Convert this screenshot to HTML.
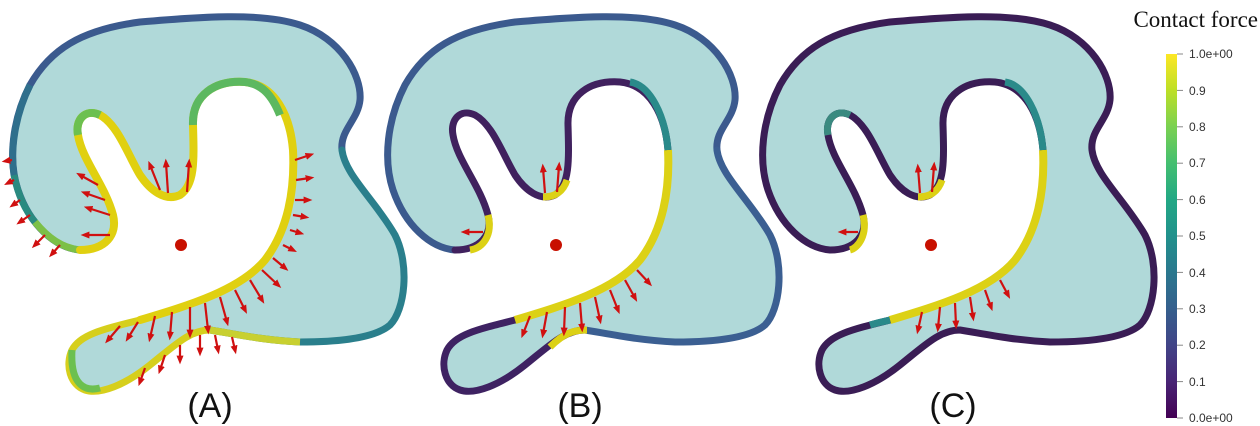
<!DOCTYPE html>
<html><head><meta charset="utf-8"><style>
body{margin:0;background:#fff;width:1260px;height:426px;overflow:hidden}
svg{display:block}
</style></head><body>
<svg width="1260" height="426" viewBox="0 0 1260 426" xmlns="http://www.w3.org/2000/svg">
<defs>
<linearGradient id="cb" x1="0" y1="1" x2="0" y2="0">
<stop offset="0" stop-color="#440154"/><stop offset="0.1" stop-color="#482475"/><stop offset="0.2" stop-color="#414487"/><stop offset="0.3" stop-color="#355f8d"/><stop offset="0.4" stop-color="#2a788e"/><stop offset="0.5" stop-color="#21918c"/><stop offset="0.6" stop-color="#22a884"/><stop offset="0.7" stop-color="#44bf70"/><stop offset="0.8" stop-color="#7ad151"/><stop offset="0.9" stop-color="#bddf26"/><stop offset="1" stop-color="#fde725"/>
</linearGradient>
<marker id="ah" viewBox="0 0 10 10" refX="5" refY="5" markerWidth="4" markerHeight="4" orient="auto"><path d="M0,1 L10,5 L0,9 z" fill="#d01010"/></marker>
<path id="full" d="M80,250 C55,248 30,225 18,190 C8,160 12,120 30,85 C50,50 80,30 140,22 C200,17 260,12 300,25 C340,38 362,75 360,100 C358,120 340,130 342,150 C345,175 375,200 395,235 C410,265 405,310 390,325 C375,338 340,342 300,342 C260,340 230,333 210,330 C190,330 175,345 150,365 C125,385 100,395 85,390 C70,385 65,365 72,350 C80,335 100,330 140,320 C190,305 240,290 265,260 C288,230 295,190 293,150 C290,115 275,85 245,82 C215,80 192,95 193,125 C194,160 195,185 180,195 C165,202 150,190 140,175 C128,155 118,125 100,115 C85,108 75,120 78,135 C82,160 105,185 113,215 C118,235 105,250 80,250 Z"/>
<path id="s1" d="M80,250 C55,248 30,225 18,190 C8,160 12,120 30,85 C50,50 80,30 140,22 C200,17 260,12 300,25 C340,38 362,75 360,100 C358,120 340,130 342,150"/>
<path id="s2" d="M342,150 C345,175 375,200 395,235 C410,265 405,310 390,325 C375,338 340,342 300,342 C260,340 230,333 210,330"/>
<path id="s3" d="M210,330 C190,330 175,345 150,365 C125,385 100,395 85,390 C70,385 65,365 72,350 C80,335 100,330 140,320"/>
<path id="s4" d="M140,320 C190,305 240,290 265,260 C288,230 295,190 293,150 C290,115 275,85 245,82 C215,80 192,95 193,125 C194,160 195,185 180,195 C165,202 150,190 140,175 C128,155 118,125 100,115 C85,108 75,120 78,135 C82,160 105,185 113,215 C118,235 105,250 80,250"/>
</defs>

<!-- Panel A -->
<g>
<use href="#full" fill="#b0d9d9" fill-rule="evenodd"/>
<use href="#s1" fill="none" stroke="#3b5a8e" stroke-width="7" stroke-linecap="round"/>
<path d="M30,85 C15,115 10,150 14,175" fill="none" stroke="#2f6f8c" stroke-width="7"/>
<path d="M14,175 C18,195 25,210 35,222" fill="none" stroke="#2a8a80" stroke-width="7"/>
<path d="M35,222 C48,238 62,248 80,250" fill="none" stroke="#7cc048" stroke-width="7"/>
<use href="#s2" fill="none" stroke="#2a7f8c" stroke-width="7" stroke-linecap="round"/>
<path d="M300,342 C260,340 230,333 210,330" fill="none" stroke="#c8d030" stroke-width="7"/>
<use href="#s3" fill="none" stroke="#d6cf1c" stroke-width="7"/>
<path d="M100,388 C85,392 70,385 72,350" fill="none" stroke="#6cc050" stroke-width="7"/>
<use href="#s4" fill="none" stroke="#e0d010" stroke-width="8" stroke-linecap="round"/>
<path d="M78,135 C75,120 85,108 100,115" fill="none" stroke="#6cc050" stroke-width="8"/>
<path d="M193,125 C192,95 215,80 245,82 C262,84 272,95 280,115" fill="none" stroke="#5cb860" stroke-width="8"/>
<g stroke="#d01010" stroke-width="2.2" marker-end="url(#ah)">
<line x1="160" y1="190" x2="150" y2="165"/><line x1="168" y1="193" x2="166" y2="163"/><line x1="187" y1="192" x2="189" y2="163"/>
<line x1="110" y1="235" x2="85" y2="235"/><line x1="110" y1="215" x2="88" y2="208"/><line x1="105" y1="200" x2="85" y2="193"/><line x1="98" y1="185" x2="80" y2="175"/>
<line x1="295" y1="160" x2="310" y2="155"/><line x1="296" y1="180" x2="310" y2="178"/><line x1="295" y1="200" x2="308" y2="200"/><line x1="293" y1="215" x2="305" y2="217"/><line x1="290" y1="230" x2="300" y2="233"/><line x1="283" y1="245" x2="293" y2="250"/><line x1="273" y1="258" x2="285" y2="268"/><line x1="262" y1="270" x2="278" y2="285"/><line x1="250" y1="280" x2="262" y2="300"/><line x1="235" y1="290" x2="245" y2="310"/><line x1="220" y1="297" x2="227" y2="322"/><line x1="205" y1="303" x2="208" y2="330"/><line x1="190" y1="307" x2="190" y2="334"/><line x1="172" y1="312" x2="170" y2="336"/><line x1="155" y1="316" x2="150" y2="338"/><line x1="138" y1="322" x2="128" y2="338"/><line x1="120" y1="326" x2="108" y2="340"/>
<line x1="200" y1="335" x2="200" y2="352"/><line x1="215" y1="335" x2="218" y2="350"/><line x1="232" y1="337" x2="235" y2="350"/><line x1="180" y1="345" x2="180" y2="360"/><line x1="165" y1="355" x2="160" y2="370"/><line x1="145" y1="368" x2="140" y2="382"/>
<line x1="30" y1="215" x2="20" y2="222"/><line x1="45" y1="235" x2="35" y2="245"/><line x1="60" y1="245" x2="52" y2="254"/>
<line x1="14" y1="180" x2="8" y2="183"/><line x1="12" y1="160" x2="6" y2="161"/><line x1="20" y1="200" x2="13" y2="205"/>
</g>
<circle cx="181" cy="245" r="6" fill="#c81000"/>
</g>

<!-- Panel B -->
<g transform="translate(375,0)">
<use href="#full" fill="#b0d9d9" fill-rule="evenodd"/>
<use href="#s1" fill="none" stroke="#3b5a8e" stroke-width="7" stroke-linecap="round"/>
<use href="#s2" fill="none" stroke="#3b5f92" stroke-width="7" stroke-linecap="round"/>
<use href="#s3" fill="none" stroke="#3e2262" stroke-width="7"/>
<use href="#s4" fill="none" stroke="#40215e" stroke-width="7" stroke-linecap="round"/>
<path d="M140,320 C190,305 240,290 265,260 C288,230 295,190 293,150" fill="none" stroke="#dcd115" stroke-width="8"/>
<path d="M293,150 C290,115 275,85 255,82" fill="none" stroke="#2a8a8a" stroke-width="7"/>
<path d="M168,197 C180,197 188,192 192,180" fill="none" stroke="#dcd115" stroke-width="7"/>
<path d="M113,215 C118,235 108,248 95,250" fill="none" stroke="#dcd115" stroke-width="7"/>
<path d="M175,347 C190,332 200,330 212,330" fill="none" stroke="#dcd115" stroke-width="7"/>
<g stroke="#d01010" stroke-width="2.2" marker-end="url(#ah)">
<line x1="170" y1="193" x2="168" y2="168"/><line x1="182" y1="192" x2="184" y2="166"/>
<line x1="108" y1="232" x2="90" y2="232"/>
<line x1="262" y1="270" x2="274" y2="283"/><line x1="250" y1="280" x2="260" y2="298"/><line x1="235" y1="290" x2="243" y2="310"/><line x1="220" y1="297" x2="225" y2="320"/><line x1="205" y1="303" x2="207" y2="328"/><line x1="190" y1="307" x2="189" y2="332"/><line x1="172" y1="312" x2="168" y2="334"/><line x1="155" y1="316" x2="148" y2="334"/>
</g>
<circle cx="181" cy="245" r="6" fill="#c81000"/>
</g>

<!-- Panel C -->
<g transform="translate(750,0)">
<use href="#full" fill="#b0d9d9" fill-rule="evenodd"/>
<use href="#full" fill="none" stroke="#3a1d55" stroke-width="7"/>
<path d="M140,320 C190,305 240,290 265,260 C288,230 295,190 293,150" fill="none" stroke="#dcd115" stroke-width="8"/>
<path d="M293,150 C290,115 275,85 255,82" fill="none" stroke="#2a8a8a" stroke-width="7"/>
<path d="M120,325 C130,322 135,321 140,320" fill="none" stroke="#2a8a8a" stroke-width="7"/>
<path d="M168,197 C180,197 188,192 192,180" fill="none" stroke="#dcd115" stroke-width="7"/>
<path d="M113,215 C118,235 108,248 100,250" fill="none" stroke="#dcd115" stroke-width="7"/>
<path d="M78,135 C75,120 85,108 100,115" fill="none" stroke="#3a8a80" stroke-width="7"/>
<g stroke="#d01010" stroke-width="2.2" marker-end="url(#ah)">
<line x1="170" y1="193" x2="168" y2="168"/><line x1="182" y1="192" x2="184" y2="166"/>
<line x1="108" y1="232" x2="92" y2="232"/>
<line x1="250" y1="280" x2="258" y2="295"/><line x1="235" y1="290" x2="241" y2="307"/><line x1="220" y1="297" x2="223" y2="317"/><line x1="205" y1="303" x2="206" y2="325"/><line x1="190" y1="307" x2="188" y2="328"/><line x1="172" y1="312" x2="168" y2="330"/>
</g>
<circle cx="181" cy="245" r="6" fill="#c81000"/>
</g>

<g font-family="Liberation Sans, sans-serif" font-size="34" fill="#111" text-anchor="middle">
<text x="210" y="417">(A)</text>
<text x="580" y="417">(B)</text>
<text x="953" y="417">(C)</text>
</g>
<text x="1258" y="27" font-family="Liberation Serif, serif" font-size="23" fill="#111" text-anchor="end">Contact force</text>
<rect x="1166" y="54" width="11" height="364" fill="url(#cb)"/>
<g stroke="#888" stroke-width="1">
<line x1="1177" y1="54" x2="1183" y2="54"/><line x1="1177" y1="90.4" x2="1183" y2="90.4"/><line x1="1177" y1="126.8" x2="1183" y2="126.8"/><line x1="1177" y1="163.2" x2="1183" y2="163.2"/><line x1="1177" y1="199.6" x2="1183" y2="199.6"/><line x1="1177" y1="236" x2="1183" y2="236"/><line x1="1177" y1="272.4" x2="1183" y2="272.4"/><line x1="1177" y1="308.8" x2="1183" y2="308.8"/><line x1="1177" y1="345.2" x2="1183" y2="345.2"/><line x1="1177" y1="381.6" x2="1183" y2="381.6"/><line x1="1177" y1="418" x2="1183" y2="418"/>
</g>
<g font-family="Liberation Sans, sans-serif" font-size="12" fill="#333">
<text x="1189" y="58">1.0e+00</text><text x="1189" y="95">0.9</text><text x="1189" y="131">0.8</text><text x="1189" y="167">0.7</text><text x="1189" y="204">0.6</text><text x="1189" y="240">0.5</text><text x="1189" y="277">0.4</text><text x="1189" y="313">0.3</text><text x="1189" y="349">0.2</text><text x="1189" y="386">0.1</text><text x="1189" y="422">0.0e+00</text>
</g>
</svg>
</body></html>
